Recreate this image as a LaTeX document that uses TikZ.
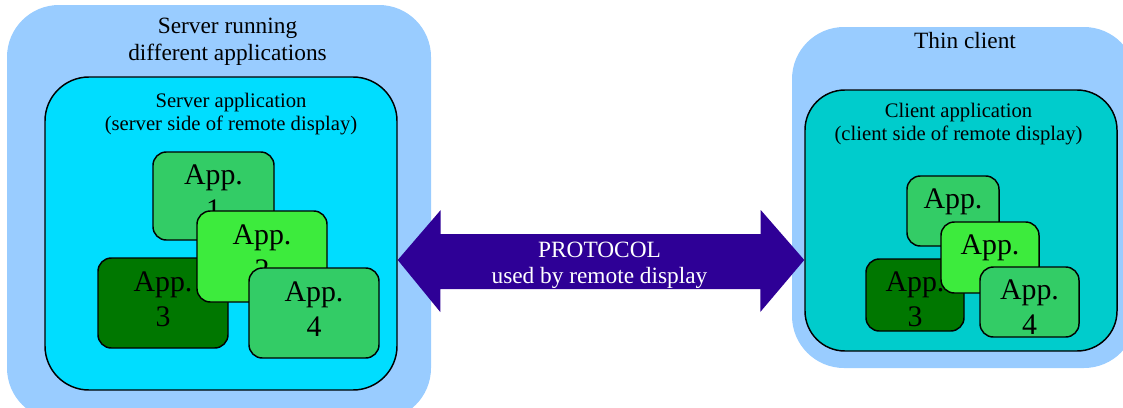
\documentclass[tikz,border=0pt]{standalone}
\usepackage{fontspec}
\setmainfont{Liberation Serif}
\usepackage{tikz}
\usetikzlibrary{positioning}

\definecolor{hostblue}{HTML}{99CCFF}
\definecolor{servercyan}{HTML}{00DDFF}
\definecolor{clientteal}{HTML}{00CCCC}
\definecolor{appgreen}{HTML}{33CC66}
\definecolor{appbright}{HTML}{3DEB3D}
\definecolor{appdark}{HTML}{007700}
\definecolor{protoviolet}{HTML}{2E0096}

\begin{document}
\begin{tikzpicture}[
    x=0.75pt, y=-0.75pt,
    host_box/.style={rectangle, rounded corners=39pt, fill=hostblue, inner sep=0pt},
    side_box/.style={rectangle, rounded corners=33pt, draw=black, line width=1.1pt, inner sep=0pt},
    app_box/.style={rectangle, rounded corners=10pt, draw=black, line width=1.1pt, inner sep=0pt, align=center, font=\fontsize{22.4}{26.25}\selectfont},
    app_left/.style={app_box, text depth=6pt},     % text sits a bit high
    app_right/.style={app_box, text height=48pt},  % text sits a bit low
    title_text/.style={align=center, inner sep=0pt, font=\fontsize{17.5}{20.25}\selectfont},
    side_text/.style={align=center, inner sep=0pt, font=\fontsize{15.5}{17.25}\selectfont},
    arrow_style/.style={fill=protoviolet}
]

\clip (0,0) rectangle (1123,407);

% Server side
\node[host_box, minimum width=318pt, minimum height=311.25pt] (host_l) at (219,212.5) {};
\node[side_box, fill=servercyan, minimum width=264pt, minimum height=234.75pt] (side_l) at (221,233.5) {};
\node[title_text] (title_l) at (227.5,42.1) {Server running\\different applications};
\node[side_text] (label_l) at (231,113.7) {Server application\\(server side of remote display)};

% Applications on the server
\node[app_left, fill=appgreen, minimum width=90.75pt, minimum height=66pt] (l1) at (213.5,196) {App.\\1};
\node[app_left, fill=appdark, minimum width=97.5pt, minimum height=67.5pt] (l3) at (163,303) {App.\\3};
\node[app_left, fill=appbright, minimum width=97.5pt, minimum height=68.25pt] (l2) at (262,256.5) {App.\\2};
\node[app_left, fill=appgreen, minimum width=97.5pt, minimum height=67.5pt] (l4) at (314,313) {App.\\4};

% Client side
\node[host_box, minimum width=258pt, minimum height=255.75pt] (host_r) at (964,197.5) {};
\node[side_box, fill=clientteal, rounded corners=30pt, minimum width=234pt, minimum height=195.75pt] (side_r) at (961,220.5) {};
\node[title_text, anchor=base] (title_r) at (965,48) {Thin client};
\node[side_text] (label_r) at (958.5,124.2) {Client application\\(client side of remote display)};

% Applications shown on the client
\node[app_right, fill=appgreen, minimum width=69pt, minimum height=52.5pt] (r1) at (953,211) {App.\\1};
\node[app_right, fill=appdark, minimum width=73.5pt, minimum height=54pt] (r3) at (915,295) {App.\\3};
\node[app_right, fill=appbright, minimum width=73.5pt, minimum height=53.25pt] (r2) at (990,257.5) {App.\\2};
\node[app_right, fill=appgreen, minimum width=74.25pt, minimum height=52.5pt] (r4) at (1029.5,302) {App.\\4};

% Protocol arrow between both sides
\coordinate (tip_l) at (side_l.east |- 0,260);
\coordinate (tip_r) at (side_r.west |- tip_l);
\fill[arrow_style] (tip_l) -- ++(43,-50) -- ++(0,24) -- ++(320,0) -- ++(0,-24)
    -- (tip_r) -- ++(-44,52) -- ++(0,-23) -- ++(-320,0) -- ++(0,23) -- cycle;
\node[title_text, text=white, font=\fontsize{17.5}{19.5}\selectfont] (proto) at (599.5,264.8) {PROTOCOL\\used by remote display};

\end{tikzpicture}
\end{document}
